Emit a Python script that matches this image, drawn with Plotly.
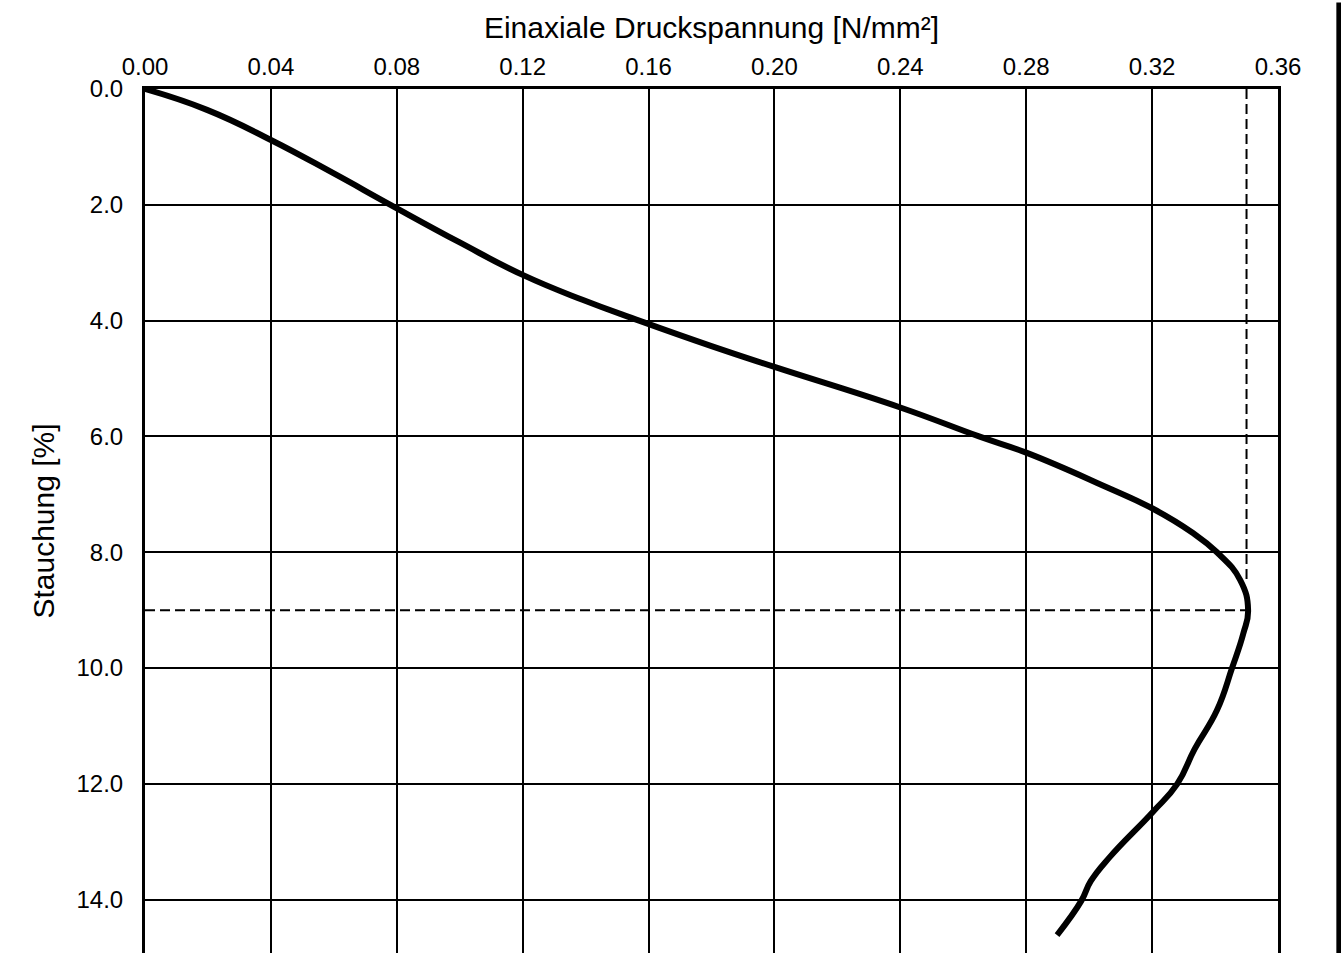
import plotly.graph_objects as go

# Data
stress = [0.0, 0.0197, 0.040, 0.0597, 0.078, 0.100, 0.120, 0.139, 0.157,
          0.180, 0.200, 0.240, 0.265, 0.280, 0.3045, 0.320, 0.3325, 0.3406, 0.348,
          0.3505, 0.349, 0.3454, 0.3406, 0.3335, 0.328, 0.3203, 0.3066, 0.3005, 0.2975,
          0.2898]
strain = [0.0, 0.36, 0.88, 1.45, 2.00, 2.65, 3.21, 3.64, 4.00,
          4.44, 4.80, 5.50, 6.00, 6.28, 6.85, 7.24, 7.65, 8.00, 8.48,
          9.00, 9.40, 10.00, 10.73, 11.40, 12.00, 12.48, 13.26, 13.68, 14.02,
          14.61]

peak_stress = 0.350
peak_strain = 9.0
vline_end = 8.5

x_ticks = [0.00, 0.04, 0.08, 0.12, 0.16, 0.20, 0.24, 0.28, 0.32, 0.36]
y_ticks = [0.0, 2.0, 4.0, 6.0, 8.0, 10.0, 12.0, 14.0]

FONT = "Liberation Sans, Arial, sans-serif"

fig = go.Figure()

fig.add_trace(go.Scatter(
    x=[0.0, peak_stress], y=[peak_strain, peak_strain], mode="lines",
    line=dict(color="black", width=2, dash="10px,5px"), showlegend=False, hoverinfo="skip"))
fig.add_trace(go.Scatter(
    x=[peak_stress, peak_stress], y=[0.0, vline_end], mode="lines",
    line=dict(color="black", width=2, dash="10px,5px"), showlegend=False, hoverinfo="skip"))

fig.add_trace(go.Scatter(
    x=stress, y=strain, mode="lines",
    line=dict(color="black", width=6, shape="spline", smoothing=1.3),
    showlegend=False))

fig.update_layout(
    width=1341, height=953,
    margin=dict(l=145, r=63, t=89, b=0),
    paper_bgcolor="white", plot_bgcolor="white",
    font=dict(family=FONT, color="black", size=24),
    xaxis=dict(
        side="top", range=[0, 0.36], tickvals=x_ticks,
        ticktext=[f"{v:.2f}" for v in x_ticks],
        showgrid=True, gridcolor="black", gridwidth=2,
        showline=True, linecolor="black", linewidth=3, mirror=False,
        ticks="", zeroline=False, automargin=False,
        ticklabelstandoff=1,
        title=dict(text="Einaxiale Druckspannung [N/mm²]", font=dict(size=30), standoff=6),
        tickfont=dict(size=24),
    ),
    yaxis=dict(
        range=[14.92, 0], tickvals=y_ticks,
        ticktext=[f"{v:.1f}" for v in y_ticks],
        showgrid=True, gridcolor="black", gridwidth=2,
        showline=True, linecolor="black", linewidth=3, mirror=True,
        ticks="", zeroline=False, automargin=False,
        ticklabelstandoff=14,
        title=dict(text="Stauchung [%]", font=dict(size=30), standoff=13),
        tickfont=dict(size=24),
    ),
    shapes=[dict(type="rect", xref="paper", yref="paper",
                 x0=1.0515, x1=1.06, y0=-0.05, y1=1.1,
                 fillcolor="black", line=dict(width=0), layer="above")],
)

fig.write_html(
    "out.html",
    config={"displayModeBar": False},
    post_script="document.body.style.margin='0';document.body.style.overflow='hidden';",
)
